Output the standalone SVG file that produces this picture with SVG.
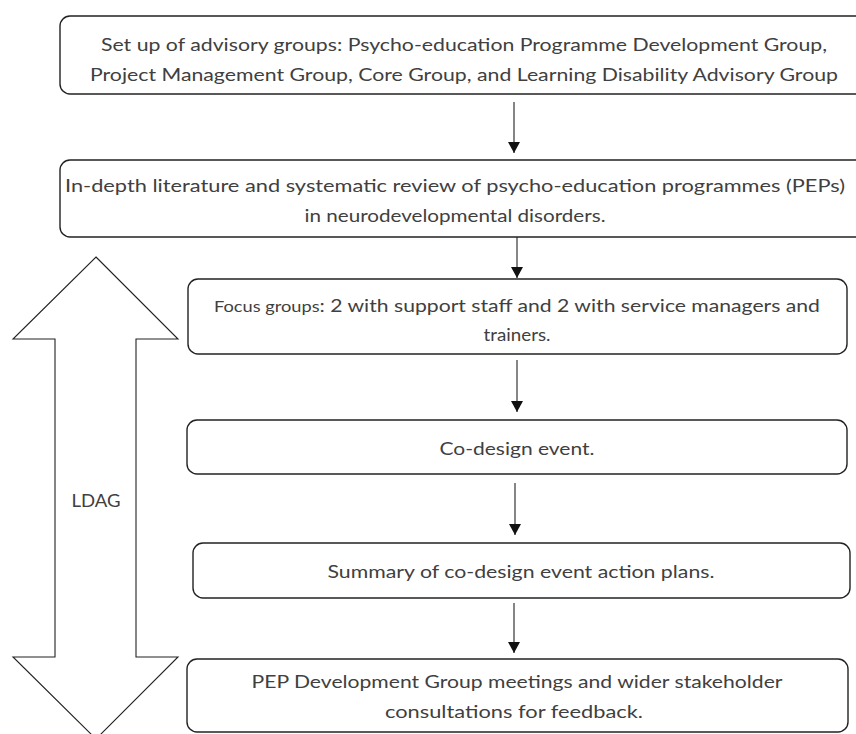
<svg xmlns="http://www.w3.org/2000/svg" width="856" height="734" viewBox="0 0 856 734">
<style>
.box{fill:#ffffff;stroke:#222222;stroke-width:1.4}
.t{font-family:Lato,"Open Sans","Liberation Sans",sans-serif;font-weight:400;font-size:18px;fill:#404040;text-anchor:middle}
.small{font-size:15.5px}
.conn{stroke:#222222;stroke-width:1.1;fill:none}
.big{fill:#ffffff;stroke:#222222;stroke-width:1.1}
</style>
<defs>
<marker id="ah" markerUnits="userSpaceOnUse" markerWidth="11" markerHeight="12" viewBox="0 0 11 12" refX="11" refY="6" orient="auto">
<path d="M0,0 L11,6 L0,12 z" fill="#111111"/>
</marker>
</defs>
<rect width="856" height="734" fill="#ffffff"/>

<g id="ldag">
<polygon class="big" points="96,257 178,339 136,339 136,657 178,657 96,739 13,657 55,657 55,339 13,339"/>
<text class="t" x="96" y="507" textLength="49" lengthAdjust="spacingAndGlyphs">LDAG</text>
</g>

<g id="connectors">
<line class="conn" x1="514" y1="102" x2="514" y2="153" marker-end="url(#ah)"/>
<line class="conn" x1="517" y1="237" x2="517" y2="278" marker-end="url(#ah)"/>
<line class="conn" x1="517" y1="360" x2="517" y2="412" marker-end="url(#ah)"/>
<line class="conn" x1="515" y1="483" x2="515" y2="535" marker-end="url(#ah)"/>
<line class="conn" x1="514" y1="603" x2="514" y2="653" marker-end="url(#ah)"/>
</g>

<g id="n1">
<rect class="box" x="60" y="16" width="812" height="78" rx="10"/>
<text class="t" x="464" y="51" textLength="726" lengthAdjust="spacingAndGlyphs">Set up of advisory groups: Psycho-education Programme Development Group,</text>
<text class="t" x="464" y="81" textLength="748" lengthAdjust="spacingAndGlyphs">Project Management Group, Core Group, and Learning Disability Advisory Group</text>
</g>

<g id="n2">
<rect class="box" x="60" y="160" width="812" height="77" rx="10"/>
<text class="t" x="455" y="192" textLength="780" lengthAdjust="spacingAndGlyphs">In-depth literature and systematic review of psycho-education programmes (PEPs)</text>
<text class="t" x="455" y="222" textLength="301" lengthAdjust="spacingAndGlyphs">in neurodevelopmental disorders.</text>
</g>

<g id="n3">
<rect class="box" x="188" y="279" width="659" height="75" rx="10"/>
<text class="t" x="517" y="312" textLength="606" lengthAdjust="spacingAndGlyphs"><tspan class="small">Focus groups</tspan>: 2 with support staff and 2 with service managers and</text>
<text class="t" x="517" y="341" textLength="67" lengthAdjust="spacingAndGlyphs">trainers.</text>
</g>

<g id="n4">
<rect class="box" x="187" y="420" width="660" height="54" rx="10"/>
<text class="t" x="517" y="455" textLength="155" lengthAdjust="spacingAndGlyphs">Co-design event.</text>
</g>

<g id="n5">
<rect class="box" x="193" y="543" width="657" height="55" rx="10"/>
<text class="t" x="521" y="578" textLength="387" lengthAdjust="spacingAndGlyphs">Summary of co-design event action plans.</text>
</g>

<g id="n6">
<rect class="box" x="187" y="659" width="661" height="73" rx="10"/>
<text class="t" x="517" y="688" textLength="531" lengthAdjust="spacingAndGlyphs">PEP Development Group meetings and wider stakeholder</text>
<text class="t" x="514" y="718" textLength="258" lengthAdjust="spacingAndGlyphs">consultations for feedback.</text>
</g>
</svg>
